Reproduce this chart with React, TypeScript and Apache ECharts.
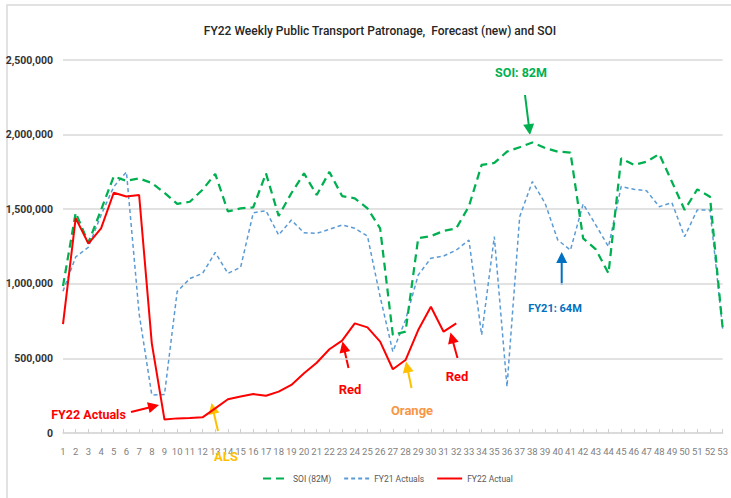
import React, { useEffect, useRef } from "react";
import * as echarts from "echarts";

const weeks: string[] = Array.from({ length: 53 }, (_, i) => String(i + 1));

const soi: number[] = [
  985000, 1476000, 1275000, 1495000, 1720000, 1690000, 1707000, 1675000, 1610000, 1536000,
  1550000, 1630000, 1737000, 1485000, 1505000, 1513000, 1740000, 1455000, 1607000, 1740000,
  1595000, 1750000, 1588000, 1573000, 1506000, 1372000, 657000, 679000, 1305000, 1320000,
  1354000, 1372000, 1520000, 1797000, 1810000, 1886000, 1915000, 1947000, 1910000, 1886000,
  1880000, 1305000, 1231000, 1070000, 1841000, 1797000, 1818000, 1870000, 1684000, 1495000,
  1633000, 1584000, 702000,
];

const fy21: number[] = [
  950000, 1180000, 1245000, 1460000, 1650000, 1750000, 800000, 255000, 258000, 948000,
  1035000, 1070000, 1210000, 1070000, 1110000, 1476000, 1490000, 1327000, 1427000, 1342000,
  1338000, 1365000, 1394000, 1372000, 1320000, 913000, 545000, 757000, 1059000, 1171000,
  1186000, 1226000, 1293000, 657000, 1316000, 310000, 1450000, 1685000, 1540000, 1294000,
  1226000, 1535000, 1394000, 1249000, 1652000, 1633000, 1624000, 1517000, 1544000, 1316000,
  1495000, 1495000, 700000,
];

const fy22: number[] = [
  730000, 1440000, 1270000, 1372000, 1610000, 1585000, 1595000, 601000, 90000, 98000,
  100000, 105000, 165000, 226000, 245000, 261000, 250000, 277000, 322000, 400000,
  471000, 561000, 619000, 735000, 708000, 612000, 427000, 489000, 690000, 846000,
  679000, 735000,
];

const seriesNames = ["SOI (82M)", "FY21 Actuals", "FY22 Actual"];
const titleText = "FY22 Weekly Public Transport Patronage,  Forecast (new) and SOI";

const FONT = "Roboto, 'Liberation Sans', sans-serif";

function arrow(x1: number, y1: number, x2: number, y2: number, color: string) {
  const dx = x2 - x1;
  const dy = y2 - y1;
  const len = Math.sqrt(dx * dx + dy * dy);
  const ux = dx / len;
  const uy = dy / len;
  const hl = 11;
  const hw = 5.5;
  const bx = x2 - ux * hl;
  const by = y2 - uy * hl;
  const px = -uy;
  const py = ux;
  return {
    type: "group",
    children: [
      {
        type: "line",
        shape: { x1, y1, x2: bx + ux, y2: by + uy },
        style: { stroke: color, lineWidth: 2 },
      },
      {
        type: "polygon",
        shape: {
          points: [
            [x2, y2],
            [bx + px * hw, by + py * hw],
            [bx - px * hw, by - py * hw],
          ],
        },
        style: { fill: color },
      },
    ],
  };
}

function label(text: string, x: number, y: number, color: string, size: number) {
  return {
    type: "text",
    x,
    y,
    z: 10,
    style: {
      text,
      fill: color,
      font: `bold ${size}px ${FONT}`,
      textAlign: "center",
      textVerticalAlign: "middle",
    },
  };
}

export default function App() {
  const ref = useRef<HTMLDivElement>(null);

  useEffect(() => {
    document.body.style.margin = "0";
    if (!ref.current) return;
    const chart = echarts.init(ref.current, undefined, { renderer: "svg" });
    chart.setOption({
      animation: false,
      backgroundColor: "#ffffff",
      title: {
        text: titleText,
        left: 375,
        top: 20,
        textAlign: "center",
        textStyle: { fontFamily: FONT, fontSize: 12, fontWeight: 500, color: "#262626" },
      },
      legend: {
        data: seriesNames,
        left: 262,
        top: 474,
        padding: 0,
        itemWidth: 25,
        itemHeight: 10,
        itemGap: 12,
        itemStyle: { opacity: 0 },
        textStyle: { fontFamily: FONT, fontSize: 8.5, color: "#595959" },
      },
      grid: { left: 63, right: 6, top: 60, bottom: 65, containLabel: false },
      xAxis: {
        type: "category",
        data: weeks,
        boundaryGap: false,
        axisLine: { lineStyle: { color: "#d9d9d9", width: 1.5 } },
        axisTick: { inside: true, length: 4, interval: 0, lineStyle: { color: "#d0d0d0" } },
        axisLabel: { interval: 0, color: "#7f7f7f", fontFamily: FONT, fontSize: 9.5, margin: 13 },
        splitLine: { show: false },
      },
      yAxis: {
        type: "value",
        min: 0,
        max: 2500000,
        interval: 500000,
        axisLine: { show: false },
        axisTick: { show: false },
        axisLabel: {
          color: "#333333",
          fontFamily: FONT,
          fontSize: 10.5,
          fontWeight: "bold",
          margin: 10,
          formatter: (v: number) => v.toLocaleString("en-US"),
        },
        splitLine: { lineStyle: { color: "#d9d9d9", width: 1.5 } },
      },
      series: [
        {
          name: seriesNames[0],
          type: "line",
          data: soi,
          symbol: "none",
          z: 3,
          lineStyle: { color: "#00b050", width: 2.25, type: [8, 5] },
          itemStyle: { color: "#00b050" },
        },
        {
          name: seriesNames[1],
          type: "line",
          data: fy21,
          symbol: "none",
          z: 2,
          lineStyle: { color: "#5b9bd5", width: 1.5, type: [4, 3] },
          itemStyle: { color: "#5b9bd5" },
        },
        {
          name: seriesNames[2],
          type: "line",
          data: fy22,
          symbol: "none",
          z: 4,
          lineStyle: { color: "#ff0000", width: 2 },
          itemStyle: { color: "#ff0000" },
        },
      ],
      graphic: [
        {
          type: "polyline",
          shape: { points: [[7, 498], [7, 5], [731, 5]] },
          style: { stroke: "#d9d9d9", lineWidth: 1.5, fill: null },
        },
        label("SOI: 82M", 521, 72, "#00b050", 12.5),
        arrow(525, 95, 530, 135, "#00b050"),
        label("FY21: 64M", 555, 308, "#0070c0", 11),
        arrow(561.7, 285, 561.7, 252, "#0070c0"),
        label("FY22 Actuals", 88.5, 414, "#ff0000", 12.5),
        arrow(131, 412, 159, 405, "#ff0000"),
        label("ALS", 226, 456, "#ffc000", 13),
        arrow(218, 431, 211.5, 403, "#ffc000"),
        label("Red", 350, 389, "#ff0000", 13),
        arrow(348.5, 368, 342.5, 341.5, "#ff0000"),
        label("Orange", 412, 410, "#f79646", 13),
        arrow(411.5, 388, 406, 361.5, "#ffc000"),
        label("Red", 457, 376, "#ff0000", 13),
        arrow(457.5, 358, 450.5, 332.5, "#ff0000"),
      ],
    });
    return () => chart.dispose();
  }, []);

  return (
    <div
      ref={ref}
      style={{ position: "absolute", left: 0, top: 0, width: 731, height: 498 }}
    />
  );
}
